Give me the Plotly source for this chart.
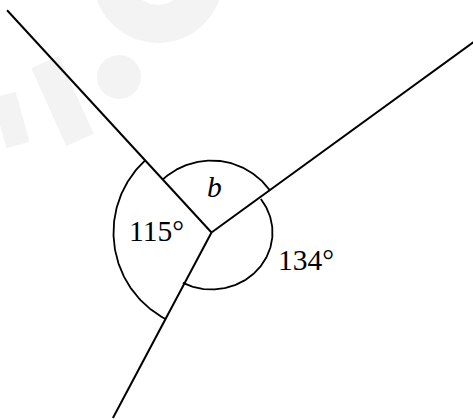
import numpy as np
import plotly.graph_objects as go

W, H = 473, 420
vertex = (211.5, 232.5)

# rays: direction (degrees, counter-clockwise from +x, y up) and length in px
ray_angles = [132.6, 36.0, 242.0]
ray_lengths = [302, 330, 210]

# angle arcs: start angle, end angle, radius x, radius y
arc_starts = [132.6, 36.0, 242.0]
arc_ends = [242.0, 132.6, 396.0]
arc_rx = [98, 72, 61]
arc_ry = [98, 72, 57]

# labels
label_texts = ["115°", "<i>b</i>", "134°"]
label_x = [156.5, 214.0, 306.0]
label_y = [231.0, 187.0, 260.0]

fig = go.Figure()
wm = "#f3f3f3"

# faint watermark (drawn first, underneath)
tt = np.radians(np.linspace(0, 360, 100))
ring_x = np.concatenate([158 + 65 * np.cos(tt), 158 + 27 * np.cos(tt[::-1])])
ring_y = np.concatenate([-22 + 65 * np.sin(tt), -22 + 27 * np.sin(tt[::-1])])
fig.add_trace(go.Scatter(x=ring_x, y=ring_y, mode="lines", fill="toself",
                         fillcolor=wm, line=dict(width=0), hoverinfo="skip", showlegend=False))
fig.add_trace(go.Scatter(x=119 + 22 * np.cos(tt), y=77 + 22 * np.sin(tt), mode="lines",
                         fill="toself", fillcolor=wm, line=dict(width=0),
                         hoverinfo="skip", showlegend=False))
fig.add_trace(go.Scatter(x=[45, 80], y=[62, 140], mode="lines", line=dict(color=wm, width=30),
                         hoverinfo="skip", showlegend=False))
fig.add_trace(go.Scatter(x=[4, 18], y=[95, 145], mode="lines", line=dict(color=wm, width=24),
                         hoverinfo="skip", showlegend=False))

cx, cy = vertex
for a, L in zip(ray_angles, ray_lengths):
    t = np.radians(a)
    fig.add_trace(go.Scatter(x=[cx, cx + L * np.cos(t)], y=[cy, cy - L * np.sin(t)],
                             mode="lines", line=dict(color="black", width=2),
                             hoverinfo="skip", showlegend=False))

for s, e, rx, ry in zip(arc_starts, arc_ends, arc_rx, arc_ry):
    t = np.radians(np.linspace(s, e, 120))
    fig.add_trace(go.Scatter(x=cx + rx * np.cos(t), y=cy - ry * np.sin(t),
                             mode="lines", line=dict(color="black", width=1.8),
                             hoverinfo="skip", showlegend=False))

for txt, x, y in zip(label_texts, label_x, label_y):
    fig.add_annotation(x=x, y=y, text=txt, showarrow=False,
                       font=dict(family="Liberation Serif", size=29.5, color="black"),
                       xanchor="center", yanchor="middle")

fig.update_layout(
    width=W, height=H, margin=dict(l=0, r=0, t=0, b=0),
    paper_bgcolor="white", plot_bgcolor="white",
    xaxis=dict(range=[0, W], visible=False, fixedrange=True),
    yaxis=dict(range=[H, 0], visible=False, fixedrange=True),
)

fig.write_html("out.html", config={"displayModeBar": False},
               post_script="document.body.style.margin='0';document.body.style.overflow='hidden';")
